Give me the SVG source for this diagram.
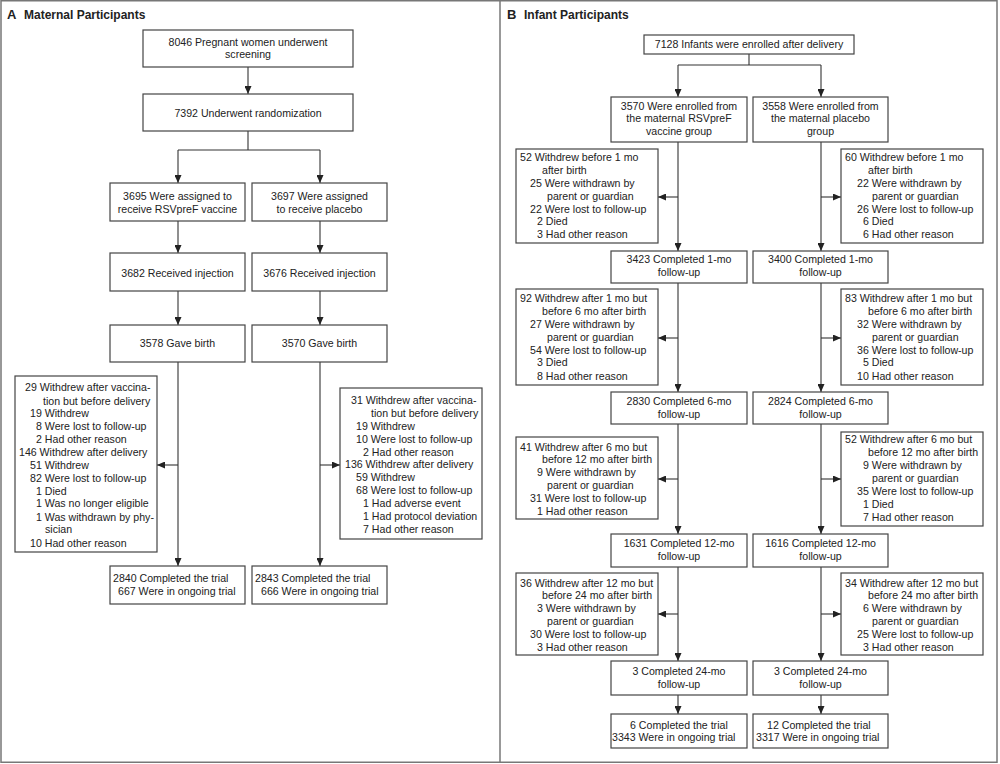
<svg xmlns="http://www.w3.org/2000/svg" width="1000" height="764" viewBox="0 0 1000 764">
<defs>
<style>
text{font-family:"Liberation Sans",Arial,sans-serif;font-size:10.6px;fill:#222}
.t{font-weight:bold;font-size:12px}
.tl{font-weight:bold;font-size:13px}
.c{text-anchor:middle}
.box{fill:#fff;stroke:#444;stroke-width:1.2}
.frame{fill:none;stroke:#777;stroke-width:1.5}
.ln{fill:none;stroke:#333;stroke-width:1.1}
.ar{marker-end:url(#ah)}
</style>
<marker id="ah" markerUnits="userSpaceOnUse" markerWidth="8" markerHeight="7" refX="8" refY="3.5" orient="auto"><path d="M0,0 L8,3.5 L0,7 z" fill="#222"/></marker>
</defs>
<rect width="1000" height="764" fill="#fff"/>
<rect class="frame" x="1" y="0.75" width="996" height="761.5"/>
<line class="frame" x1="500" y1="0" x2="500" y2="762"/>
<g id="title-a"><text class="tl" x="7" y="19">A</text><text class="t" x="24" y="19">Maternal Participants</text></g>
<g id="title-b"><text class="tl" x="507" y="19">B</text><text class="t" x="524" y="19">Infant Participants</text></g>

<g id="connectors">
<path class="ln ar" d="M248,67 V94"/>
<path class="ln" d="M248,131 V150 M178,150 H320"/>
<path class="ln ar" d="M178,150 V183"/>
<path class="ln ar" d="M320,150 V183"/>
<path class="ln ar" d="M178,221 V253"/>
<path class="ln ar" d="M320,221 V253"/>
<path class="ln ar" d="M178,291 V325"/>
<path class="ln ar" d="M320,291 V325"/>
<path class="ln ar" d="M178,362 V566"/>
<path class="ln ar" d="M320,362 V566"/>
<path class="ln ar" d="M178,465 H157"/>
<path class="ln ar" d="M320,465 H340"/>

<path class="ln" d="M749,54 V65 M678,65 H821"/>
<path class="ln ar" d="M678,65 V97"/>
<path class="ln ar" d="M821,65 V97"/>
<path class="ln ar" d="M678,142 V251"/>
<path class="ln ar" d="M821,142 V251"/>
<path class="ln ar" d="M678,197 H658"/>
<path class="ln ar" d="M821,197 H841"/>
<path class="ln ar" d="M678,283 V392"/>
<path class="ln ar" d="M821,283 V392"/>
<path class="ln ar" d="M678,338 H658"/>
<path class="ln ar" d="M821,338 H841"/>
<path class="ln ar" d="M678,424 V534"/>
<path class="ln ar" d="M821,424 V534"/>
<path class="ln ar" d="M678,479 H658"/>
<path class="ln ar" d="M821,479 H841"/>
<path class="ln ar" d="M678,567 V661"/>
<path class="ln ar" d="M821,567 V661"/>
<path class="ln ar" d="M678,614 H658"/>
<path class="ln ar" d="M821,614 H841"/>
<path class="ln ar" d="M678,695 V714"/>
<path class="ln ar" d="M821,695 V714"/>
</g>

<g id="a-screening"><rect class="box" x="143" y="30" width="210" height="37"/>
<text class="c" x="248" y="46">8046 Pregnant women underwent</text><text class="c" x="248" y="58">screening</text></g>
<g id="a-random"><rect class="box" x="143" y="94" width="210" height="37"/>
<text class="c" x="248" y="117">7392 Underwent randomization</text></g>
<g id="a-assign-vac"><rect class="box" x="110" y="183" width="135" height="38"/>
<text class="c" x="177.5" y="200">3695 Were assigned to</text><text class="c" x="177.5" y="213">receive RSVpreF vaccine</text></g>
<g id="a-assign-pla"><rect class="box" x="252" y="183" width="135" height="38"/>
<text class="c" x="319.5" y="200">3697 Were assigned</text><text class="c" x="319.5" y="213">to receive placebo</text></g>
<g id="a-inj-vac"><rect class="box" x="110" y="253" width="135" height="38"/>
<text class="c" x="177.5" y="277">3682 Received injection</text></g>
<g id="a-inj-pla"><rect class="box" x="252" y="253" width="135" height="38"/>
<text class="c" x="319.5" y="277">3676 Received injection</text></g>
<g id="a-birth-vac"><rect class="box" x="110" y="325" width="135" height="37"/>
<text class="c" x="177.5" y="347">3578 Gave birth</text></g>
<g id="a-birth-pla"><rect class="box" x="252" y="325" width="135" height="37"/>
<text class="c" x="319.5" y="347">3570 Gave birth</text></g>
<g id="a-wd-vac"><rect class="box" x="15" y="376" width="142" height="176"/>
<text x="25" y="391">29 Withdrew after vaccina-</text>
<text x="43" y="405">tion but before delivery</text>
<text x="30" y="417">19 Withdrew</text>
<text x="36" y="430">8 Were lost to follow-up</text>
<text x="36" y="443">2 Had other reason</text>
<text x="19" y="456">146 Withdrew after delivery</text>
<text x="30" y="469">51 Withdrew</text>
<text x="30" y="482">82 Were lost to follow-up</text>
<text x="36" y="495">1 Died</text>
<text x="36" y="507">1 Was no longer eligible</text>
<text x="36" y="521">1 Was withdrawn by phy-</text>
<text x="45" y="533">sician</text>
<text x="30" y="547">10 Had other reason</text></g>
<g id="a-wd-pla"><rect class="box" x="340" y="388" width="142" height="151"/>
<text x="351" y="404">31 Withdrew after vaccina-</text>
<text x="371" y="417">tion but before delivery</text>
<text x="356" y="430">19 Withdrew</text>
<text x="356" y="443">10 Were lost to follow-up</text>
<text x="363" y="456">2 Had other reason</text>
<text x="345" y="468">136 Withdrew after delivery</text>
<text x="356" y="481">59 Withdrew</text>
<text x="356" y="494">68 Were lost to follow-up</text>
<text x="363" y="507">1 Had adverse event</text>
<text x="363" y="520">1 Had protocol deviation</text>
<text x="363" y="533">7 Had other reason</text></g>
<g id="a-done-vac"><rect class="box" x="110" y="566" width="135" height="38"/>
<text x="113" y="582">2840 Completed the trial</text><text x="118" y="595">667 Were in ongoing trial</text></g>
<g id="a-done-pla"><rect class="box" x="252" y="566" width="135" height="38"/>
<text x="255" y="582">2843 Completed the trial</text><text x="261" y="595">666 Were in ongoing trial</text></g>

<g id="b-enrolled"><rect class="box" x="644" y="35" width="210" height="19"/>
<text class="c" x="749" y="48">7128 Infants were enrolled after delivery</text></g>
<g id="b-enr-vac"><rect class="box" x="611" y="97" width="136" height="45"/>
<text class="c" x="679" y="110">3570 Were enrolled from</text><text class="c" x="679" y="122">the maternal RSVpreF</text><text class="c" x="679" y="135">vaccine group</text></g>
<g id="b-enr-pla"><rect class="box" x="753" y="97" width="135" height="45"/>
<text class="c" x="820.5" y="110">3558 Were enrolled from</text><text class="c" x="820.5" y="122">the maternal placebo</text><text class="c" x="820.5" y="135">group</text></g>

<g id="b-wd1-vac"><rect class="box" x="516" y="149" width="142" height="94"/>
<text x="520" y="161">52 Withdrew before 1 mo</text>
<text x="542" y="174">after birth</text>
<text x="530" y="187">25 Were withdrawn by</text>
<text x="547" y="200">parent or guardian</text>
<text x="530" y="213">22 Were lost to follow-up</text>
<text x="537" y="225">2 Died</text>
<text x="537" y="238">3 Had other reason</text></g>
<g id="b-wd1-pla"><rect class="box" x="841" y="149" width="142" height="94"/>
<text x="845" y="161">60 Withdrew before 1 mo</text>
<text x="868" y="174">after birth</text>
<text x="857" y="187">22 Were withdrawn by</text>
<text x="872" y="200">parent or guardian</text>
<text x="857" y="213">26 Were lost to follow-up</text>
<text x="863" y="225">6 Died</text>
<text x="863" y="238">6 Had other reason</text></g>
<g id="b-1mo-vac"><rect class="box" x="611" y="251" width="136" height="32"/>
<text class="c" x="679" y="263">3423 Completed 1-mo</text><text class="c" x="679" y="276">follow-up</text></g>
<g id="b-1mo-pla"><rect class="box" x="753" y="251" width="135" height="32"/>
<text class="c" x="820.5" y="263">3400 Completed 1-mo</text><text class="c" x="820.5" y="276">follow-up</text></g>

<g id="b-wd2-vac"><rect class="box" x="516" y="289" width="142" height="96"/>
<text x="520" y="302">92 Withdrew after 1 mo but</text>
<text x="542" y="315">before 6 mo after birth</text>
<text x="530" y="328">27 Were withdrawn by</text>
<text x="547" y="341">parent or guardian</text>
<text x="530" y="354">54 Were lost to follow-up</text>
<text x="537" y="366">3 Died</text>
<text x="537" y="380">8 Had other reason</text></g>
<g id="b-wd2-pla"><rect class="box" x="841" y="289" width="142" height="96"/>
<text x="845" y="302">83 Withdrew after 1 mo but</text>
<text x="868" y="315">before 6 mo after birth</text>
<text x="857" y="328">32 Were withdrawn by</text>
<text x="872" y="341">parent or guardian</text>
<text x="857" y="354">36 Were lost to follow-up</text>
<text x="863" y="366">5 Died</text>
<text x="857" y="380">10 Had other reason</text></g>
<g id="b-6mo-vac"><rect class="box" x="611" y="392" width="136" height="32"/>
<text class="c" x="679" y="405">2830 Completed 6-mo</text><text class="c" x="679" y="418">follow-up</text></g>
<g id="b-6mo-pla"><rect class="box" x="753" y="392" width="135" height="32"/>
<text class="c" x="820.5" y="405">2824 Completed 6-mo</text><text class="c" x="820.5" y="418">follow-up</text></g>

<g id="b-wd3-vac"><rect class="box" x="516" y="437" width="142" height="82"/>
<text x="520" y="451">41 Withdrew after 6 mo but</text>
<text x="542" y="463">before 12 mo after birth</text>
<text x="537" y="476">9 Were withdrawn by</text>
<text x="547" y="489">parent or guardian</text>
<text x="530" y="502">31 Were lost to follow-up</text>
<text x="537" y="515">1 Had other reason</text></g>
<g id="b-wd3-pla"><rect class="box" x="841" y="432" width="142" height="94"/>
<text x="845" y="443">52 Withdrew after 6 mo but</text>
<text x="868" y="456">before 12 mo after birth</text>
<text x="863" y="469">9 Were withdrawn by</text>
<text x="872" y="482">parent or guardian</text>
<text x="857" y="495">35 Were lost to follow-up</text>
<text x="863" y="508">1 Died</text>
<text x="863" y="521">7 Had other reason</text></g>
<g id="b-12mo-vac"><rect class="box" x="611" y="534" width="136" height="33"/>
<text class="c" x="679" y="547">1631 Completed 12-mo</text><text class="c" x="679" y="560">follow-up</text></g>
<g id="b-12mo-pla"><rect class="box" x="753" y="534" width="135" height="33"/>
<text class="c" x="820.5" y="547">1616 Completed 12-mo</text><text class="c" x="820.5" y="560">follow-up</text></g>

<g id="b-wd4-vac"><rect class="box" x="516" y="573" width="142" height="82"/>
<text x="520" y="587">36 Withdrew after 12 mo but</text>
<text x="542" y="599">before 24 mo after birth</text>
<text x="537" y="612">3 Were withdrawn by</text>
<text x="547" y="625">parent or guardian</text>
<text x="530" y="638">30 Were lost to follow-up</text>
<text x="537" y="651">3 Had other reason</text></g>
<g id="b-wd4-pla"><rect class="box" x="841" y="573" width="142" height="82"/>
<text x="845" y="587">34 Withdrew after 12 mo but</text>
<text x="868" y="599">before 24 mo after birth</text>
<text x="863" y="612">6 Were withdrawn by</text>
<text x="872" y="625">parent or guardian</text>
<text x="857" y="638">25 Were lost to follow-up</text>
<text x="863" y="651">3 Had other reason</text></g>
<g id="b-24mo-vac"><rect class="box" x="611" y="661" width="136" height="34"/>
<text class="c" x="679" y="675">3 Completed 24-mo</text><text class="c" x="679" y="688">follow-up</text></g>
<g id="b-24mo-pla"><rect class="box" x="753" y="661" width="135" height="34"/>
<text class="c" x="820.5" y="675">3 Completed 24-mo</text><text class="c" x="820.5" y="688">follow-up</text></g>
<g id="b-done-vac"><rect class="box" x="611" y="714" width="136" height="34"/>
<text x="630" y="729">6 Completed the trial</text><text x="612" y="741">3343 Were in ongoing trial</text></g>
<g id="b-done-pla"><rect class="box" x="753" y="714" width="135" height="34"/>
<text x="767" y="729">12 Completed the trial</text><text x="756" y="741">3317 Were in ongoing trial</text></g>
</svg>
